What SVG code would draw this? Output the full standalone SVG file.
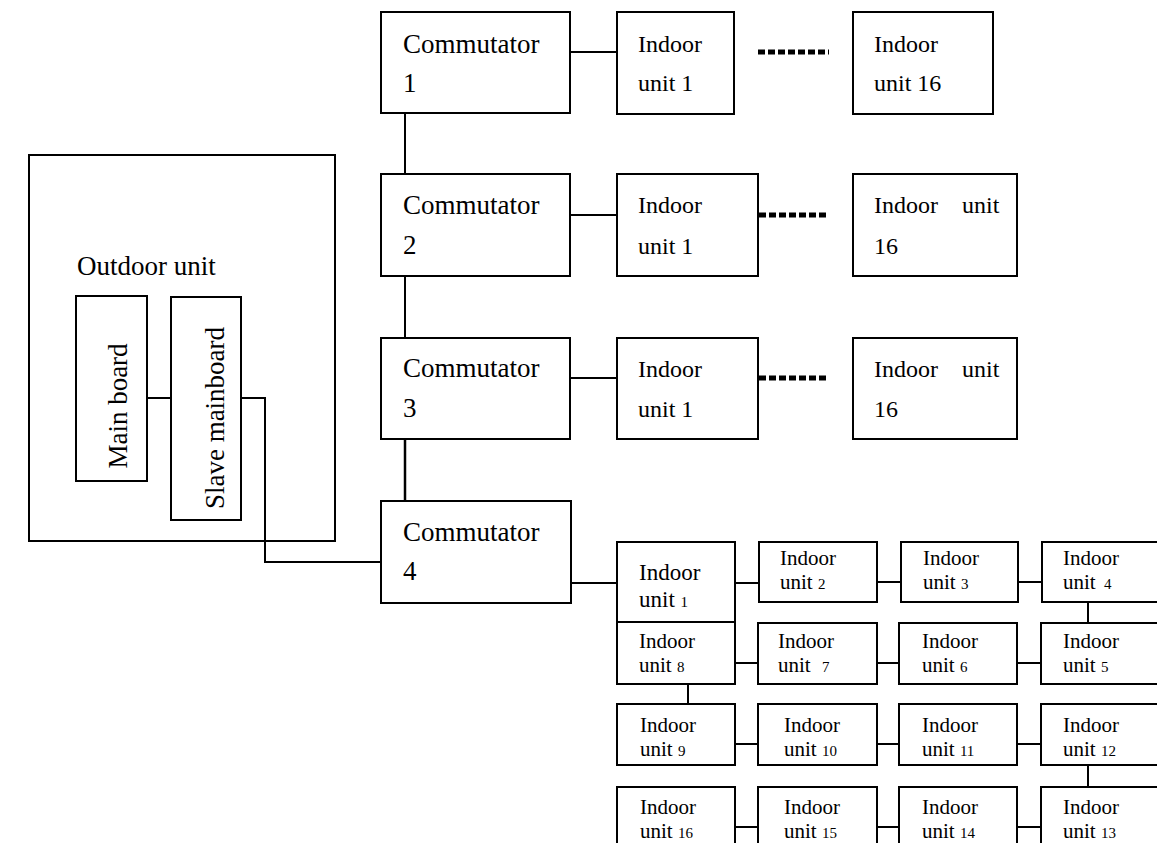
<svg xmlns="http://www.w3.org/2000/svg" width="1157" height="843" viewBox="0 0 1157 843">
<style>
.box{fill:#fff;stroke:#000;stroke-width:2}
.ln{stroke:#000;stroke-width:2;fill:none}
.dots{stroke:#000;stroke-width:5;stroke-dasharray:7 3;fill:none}
.t{font-family:"Liberation Serif","Times New Roman",serif;fill:#000}
.big{font-size:27px}
.mid{font-size:24px}
.g1{font-size:23px}
.sm{font-size:21px}
.dg{font-size:15px}
</style>
<rect width="1157" height="843" fill="#fff"/>
<g id="connectors">
<line class="ln" x1="405" y1="113" x2="405" y2="174"/>
<line class="ln" x1="405" y1="276" x2="405" y2="338"/>
<line class="ln" x1="405" y1="439" x2="405" y2="501" style="stroke-width:2.5"/>
<line class="ln" x1="570" y1="52" x2="617" y2="52"/>
<line class="ln" x1="570" y1="215" x2="617" y2="215"/>
<line class="ln" x1="570" y1="378" x2="617" y2="378"/>
<line class="dots" x1="758" y1="52" x2="829" y2="52"/>
<line class="dots" x1="759" y1="215" x2="829" y2="215"/>
<line class="dots" x1="759" y1="378" x2="829" y2="378"/>
<line class="ln" x1="147" y1="398" x2="171" y2="398"/>
<polyline class="ln" points="241,398 265,398 265,562 381,562"/>
<line class="ln" x1="571" y1="583" x2="617" y2="583"/>
<line class="ln" x1="735" y1="583" x2="759" y2="583"/>
<line class="ln" x1="877" y1="582" x2="901" y2="582"/>
<line class="ln" x1="1018" y1="582" x2="1042" y2="582"/>
<line class="ln" x1="735" y1="663" x2="758" y2="663"/>
<line class="ln" x1="877" y1="663" x2="899" y2="663"/>
<line class="ln" x1="1017" y1="663" x2="1041" y2="663"/>
<line class="ln" x1="735" y1="744" x2="758" y2="744"/>
<line class="ln" x1="877" y1="744" x2="899" y2="744"/>
<line class="ln" x1="1017" y1="744" x2="1041" y2="744"/>
<line class="ln" x1="735" y1="827" x2="758" y2="827"/>
<line class="ln" x1="877" y1="827" x2="899" y2="827"/>
<line class="ln" x1="1017" y1="827" x2="1041" y2="827"/>
<line class="ln" x1="1088" y1="602" x2="1088" y2="623"/>
<line class="ln" x1="688" y1="684" x2="688" y2="704"/>
<line class="ln" x1="1088" y1="765" x2="1088" y2="787"/>
</g>
<g id="outdoor">
<rect class="box" x="29" y="155" width="306" height="386" style="fill:none"/>
<text class="t big" x="77" y="275">Outdoor unit</text>
</g>
<g id="mainboard">
<rect class="box" x="76" y="296" width="71" height="185"/>
<text class="t big" x="127" y="406" text-anchor="middle" transform="rotate(-90 127 406)">Main board</text>
</g>
<g id="slave">
<rect class="box" x="171" y="297" width="70" height="223"/>
<text class="t big" x="224" y="418" text-anchor="middle" transform="rotate(-90 224 418)">Slave mainboard</text>
</g>
<g id="comm1">
<rect class="box" x="381" y="12" width="189" height="101"/>
<text class="t big" x="403" y="53">Commutator<tspan x="403" y="92">1</tspan></text>
</g>
<g id="comm2">
<rect class="box" x="381" y="174" width="189" height="102"/>
<text class="t big" x="403" y="214">Commutator<tspan x="403" y="254">2</tspan></text>
</g>
<g id="comm3">
<rect class="box" x="381" y="338" width="189" height="101"/>
<text class="t big" x="403" y="377">Commutator<tspan x="403" y="417">3</tspan></text>
</g>
<g id="comm4">
<rect class="box" x="381" y="501" width="190" height="102"/>
<text class="t big" x="403" y="541">Commutator<tspan x="403" y="580">4</tspan></text>
</g>
<g id="r1u1">
<rect class="box" x="617" y="12" width="117" height="102"/>
<text class="t mid" x="638" y="52">Indoor<tspan x="638" y="91">unit 1</tspan></text>
</g>
<g id="r1u16">
<rect class="box" x="853" y="12" width="140" height="102"/>
<text class="t mid" x="874" y="52">Indoor<tspan x="874" y="91">unit 16</tspan></text>
</g>
<g id="r2u1">
<rect class="box" x="617" y="174" width="141" height="102"/>
<text class="t mid" x="638" y="213">Indoor<tspan x="638" y="254">unit 1</tspan></text>
</g>
<g id="r2u16">
<rect class="box" x="853" y="174" width="164" height="102"/>
<text class="t mid" x="874" y="213">Indoor<tspan x="962">unit</tspan><tspan x="874" y="254">16</tspan></text>
</g>
<g id="r3u1">
<rect class="box" x="617" y="338" width="141" height="101"/>
<text class="t mid" x="638" y="377">Indoor<tspan x="638" y="417">unit 1</tspan></text>
</g>
<g id="r3u16">
<rect class="box" x="853" y="338" width="164" height="101"/>
<text class="t mid" x="874" y="377">Indoor<tspan x="962">unit</tspan><tspan x="874" y="417">16</tspan></text>
</g>
<g id="g1">
<rect class="box" x="617" y="542" width="118" height="80"/>
<text class="t g1" x="639" y="580">Indoor<tspan x="639" y="607">unit </tspan><tspan class="dg">1</tspan></text>
</g>
<g id="g2">
<rect class="box" x="759" y="542" width="118" height="60"/>
<text class="t sm" x="780" y="565">Indoor<tspan x="780" y="589">unit </tspan><tspan class="dg">2</tspan></text>
</g>
<g id="g3">
<rect class="box" x="901" y="542" width="117" height="60"/>
<text class="t sm" x="923" y="565">Indoor<tspan x="923" y="589">unit </tspan><tspan class="dg">3</tspan></text>
</g>
<g id="g4">
<rect class="box" x="1042" y="542" width="120" height="60"/>
<text class="t sm" x="1063" y="565">Indoor<tspan x="1063" y="589">unit </tspan><tspan class="dg" dx="3">4</tspan></text>
</g>
<g id="g8">
<rect class="box" x="617" y="622" width="118" height="62"/>
<text class="t sm" x="639" y="647.5">Indoor<tspan x="639" y="671.5">unit </tspan><tspan class="dg">8</tspan></text>
</g>
<g id="g7">
<rect class="box" x="758" y="623" width="119" height="61"/>
<text class="t sm" x="778" y="647.5">Indoor<tspan x="778" y="671.5">unit </tspan><tspan class="dg" dx="6">7</tspan></text>
</g>
<g id="g6">
<rect class="box" x="899" y="623" width="118" height="61"/>
<text class="t sm" x="922" y="647.5">Indoor<tspan x="922" y="671.5">unit </tspan><tspan class="dg">6</tspan></text>
</g>
<g id="g5">
<rect class="box" x="1041" y="623" width="121" height="61"/>
<text class="t sm" x="1063" y="647.5">Indoor<tspan x="1063" y="671.5">unit </tspan><tspan class="dg">5</tspan></text>
</g>
<g id="g9">
<rect class="box" x="617" y="704" width="118" height="61"/>
<text class="t sm" x="640" y="731.5">Indoor<tspan x="640" y="755.5">unit </tspan><tspan class="dg">9</tspan></text>
</g>
<g id="g10">
<rect class="box" x="758" y="704" width="119" height="61"/>
<text class="t sm" x="784" y="731.5">Indoor<tspan x="784" y="755.5">unit </tspan><tspan class="dg">10</tspan></text>
</g>
<g id="g11">
<rect class="box" x="899" y="704" width="118" height="61"/>
<text class="t sm" x="922" y="731.5">Indoor<tspan x="922" y="755.5">unit </tspan><tspan class="dg">11</tspan></text>
</g>
<g id="g12">
<rect class="box" x="1041" y="704" width="121" height="61"/>
<text class="t sm" x="1063" y="731.5">Indoor<tspan x="1063" y="755.5">unit </tspan><tspan class="dg">12</tspan></text>
</g>
<g id="g16">
<rect class="box" x="617" y="787" width="118" height="66"/>
<text class="t sm" x="640" y="813.5">Indoor<tspan x="640" y="837.5">unit </tspan><tspan class="dg">16</tspan></text>
</g>
<g id="g15">
<rect class="box" x="758" y="787" width="119" height="66"/>
<text class="t sm" x="784" y="813.5">Indoor<tspan x="784" y="837.5">unit </tspan><tspan class="dg">15</tspan></text>
</g>
<g id="g14">
<rect class="box" x="899" y="787" width="118" height="66"/>
<text class="t sm" x="922" y="813.5">Indoor<tspan x="922" y="837.5">unit </tspan><tspan class="dg">14</tspan></text>
</g>
<g id="g13">
<rect class="box" x="1041" y="787" width="121" height="66"/>
<text class="t sm" x="1063" y="813.5">Indoor<tspan x="1063" y="837.5">unit </tspan><tspan class="dg">13</tspan></text>
</g>
</svg>
